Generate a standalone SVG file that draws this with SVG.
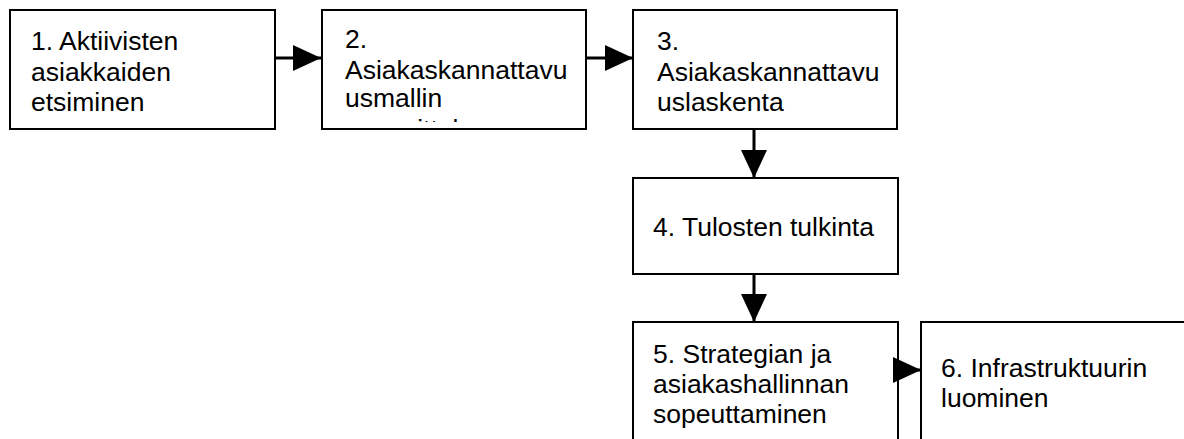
<svg xmlns="http://www.w3.org/2000/svg" width="1184" height="439" viewBox="0 0 1184 439">
<style>
.box{fill:#fff;stroke:#000;stroke-width:2}
.t{font-family:"Liberation Sans",Arial,sans-serif;font-size:26.5px;fill:#000}
.c{stroke:#000;stroke-width:3;fill:none}
</style>
<defs>
<marker id="arr" viewBox="0 0 28 26" markerWidth="28" markerHeight="26" refX="28" refY="13" orient="auto" markerUnits="userSpaceOnUse">
<path d="M0,0 L28,13 L0,26 z" fill="#000"/>
</marker>
<clipPath id="clip2"><rect x="322" y="10" width="264" height="112"/></clipPath>
</defs>
<rect width="1184" height="439" fill="#fff"/>
<g id="n1">
<rect class="box" x="10" y="10" width="265" height="119"/>
<text class="t" x="31" y="50">1. Aktiivisten</text>
<text class="t" x="31" y="80.5">asiakkaiden</text>
<text class="t" x="31" y="111">etsiminen</text>
</g>
<g id="n2">
<rect class="box" x="322" y="10" width="264" height="119"/>
<g clip-path="url(#clip2)">
<text class="t" x="345" y="48">2.</text>
<text class="t" x="345" y="78.5">Asiakaskannattavu</text>
<text class="t" x="345" y="107">usmallin</text>
<text class="t" x="345" y="137.5">suunnittelu</text>
</g>
</g>
<g id="n3">
<rect class="box" x="633" y="10" width="264" height="119"/>
<text class="t" x="657" y="50">3.</text>
<text class="t" x="657" y="80.5">Asiakaskannattavu</text>
<text class="t" x="657" y="111">uslaskenta</text>
</g>
<g id="n4">
<rect class="box" x="633" y="178" width="265" height="96"/>
<text class="t" x="653" y="236">4. Tulosten tulkinta</text>
</g>
<g id="n5">
<rect class="box" x="633" y="322" width="265" height="130"/>
<text class="t" x="653" y="363">5. Strategian ja</text>
<text class="t" x="653" y="393">asiakashallinnan</text>
<text class="t" x="653" y="423">sopeuttaminen</text>
</g>
<g id="n6">
<rect class="box" x="921" y="322" width="280" height="130"/>
<text class="t" x="941" y="377">6. Infrastruktuurin</text>
<text class="t" x="941" y="407">luominen</text>
</g>
<g id="connectors">
<path class="c" d="M275,58 H321" marker-end="url(#arr)"/>
<path class="c" d="M586,58 H633" marker-end="url(#arr)"/>
<path class="c" d="M754,129 V178" marker-end="url(#arr)"/>
<path class="c" d="M754,274 V322" marker-end="url(#arr)"/>
<path class="c" d="M894,370 H921" marker-end="url(#arr)"/>
</g>
</svg>
